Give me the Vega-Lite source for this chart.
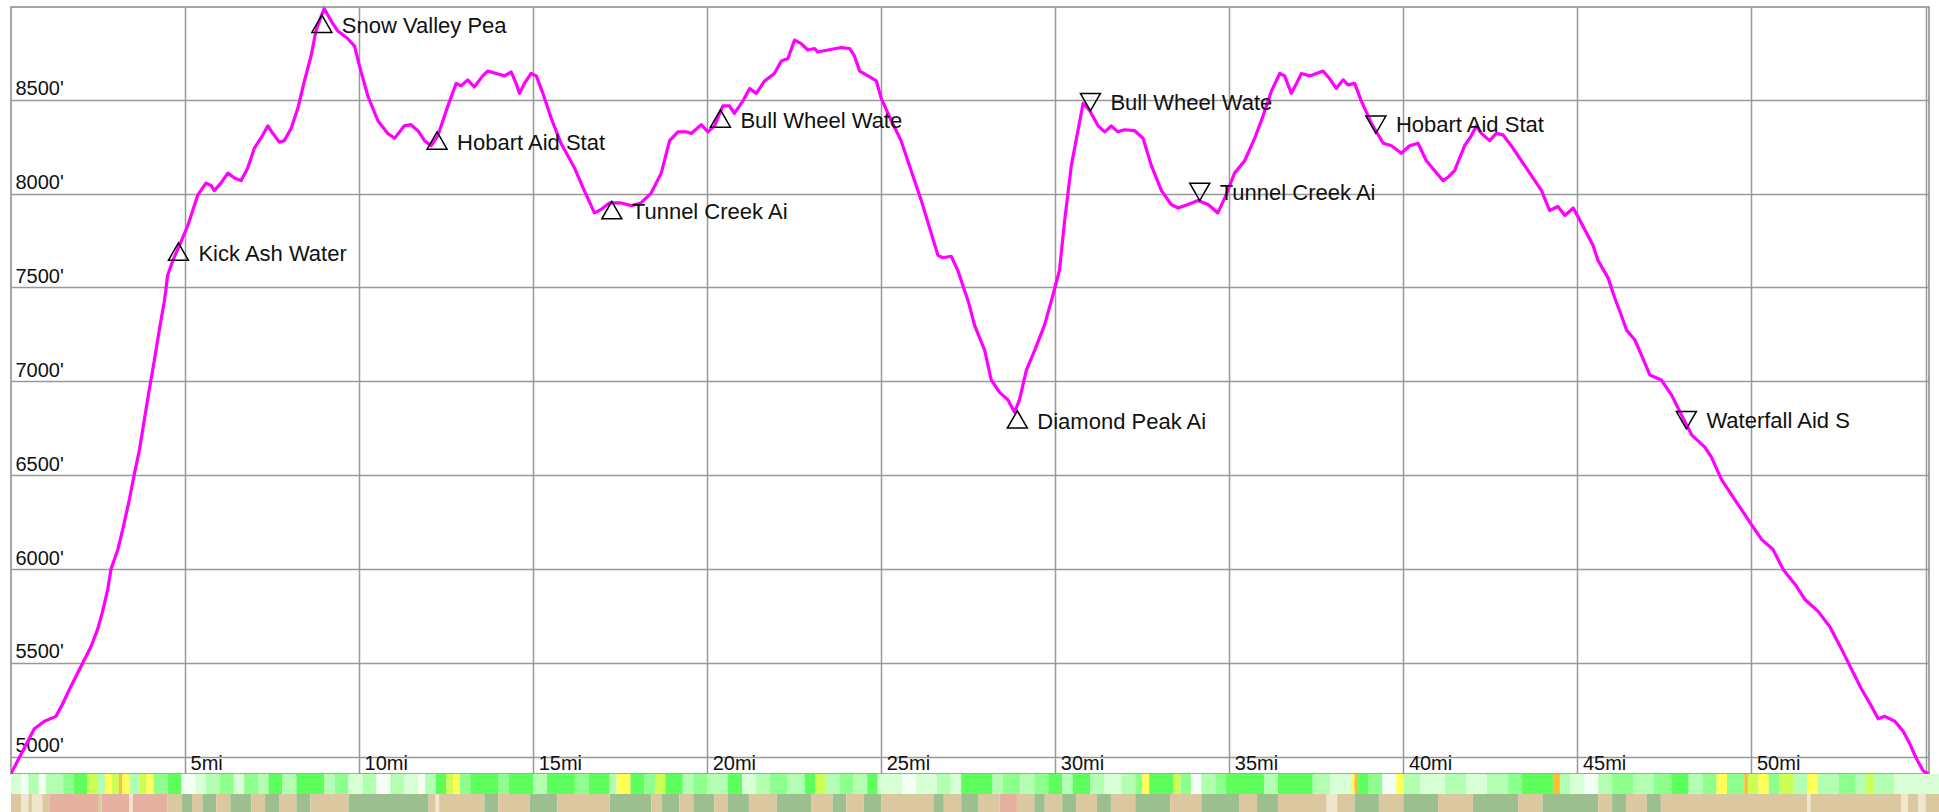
{
  "$schema": "https://vega.github.io/schema/vega-lite/v6.json",
  "padding": {"left": 10, "top": 6, "right": 0, "bottom": 0},
  "background": "white",
  "spacing": 0,
  "bounds": "flush",
  "config": {"font": "Liberation Sans"},
  "resolve": {"scale": {"color": "independent", "x": "independent"}},
  "datasets": {
    "profile": [
      {"mile":0.0,"elev":4910},{"mile":0.67,"elev":5149},{"mile":0.96,"elev":5189},{"mile":1.29,"elev":5215},{"mile":1.48,"elev":5281},{"mile":1.72,"elev":5374},{"mile":2.01,"elev":5481},{"mile":2.30,"elev":5587},{"mile":2.49,"elev":5680},{"mile":2.63,"elev":5773},{"mile":2.78,"elev":5892},{"mile":2.87,"elev":5998},{"mile":3.07,"elev":6104},{"mile":3.21,"elev":6211},{"mile":3.40,"elev":6370},{"mile":3.54,"elev":6503},{"mile":3.69,"elev":6635},{"mile":3.83,"elev":6795},{"mile":3.97,"elev":6954},{"mile":4.12,"elev":7113},{"mile":4.26,"elev":7273},{"mile":4.41,"elev":7432},{"mile":4.50,"elev":7565},{"mile":4.65,"elev":7644},{"mile":4.84,"elev":7724},{"mile":5.08,"elev":7830},{"mile":5.22,"elev":7910},{"mile":5.36,"elev":7990},{"mile":5.60,"elev":8056},{"mile":5.75,"elev":8043},{"mile":5.84,"elev":8016},{"mile":6.03,"elev":8056},{"mile":6.23,"elev":8109},{"mile":6.42,"elev":8083},{"mile":6.61,"elev":8069},{"mile":6.80,"elev":8136},{"mile":6.99,"elev":8242},{"mile":7.18,"elev":8295},{"mile":7.38,"elev":8361},{"mile":7.52,"elev":8321},{"mile":7.71,"elev":8274},{"mile":7.85,"elev":8282},{"mile":8.05,"elev":8348},{"mile":8.24,"elev":8454},{"mile":8.43,"elev":8600},{"mile":8.62,"elev":8733},{"mile":8.76,"elev":8866},{"mile":8.91,"elev":8945},{"mile":9.00,"elev":8985},{"mile":9.20,"elev":8919},{"mile":9.39,"elev":8866},{"mile":9.67,"elev":8826},{"mile":9.87,"elev":8786},{"mile":10.01,"elev":8680},{"mile":10.25,"elev":8521},{"mile":10.54,"elev":8388},{"mile":10.82,"elev":8321},{"mile":11.02,"elev":8295},{"mile":11.30,"elev":8361},{"mile":11.49,"elev":8367},{"mile":11.69,"elev":8335},{"mile":11.88,"elev":8282},{"mile":12.07,"elev":8255},{"mile":12.26,"elev":8308},{"mile":12.55,"elev":8467},{"mile":12.79,"elev":8587},{"mile":12.93,"elev":8574},{"mile":13.12,"elev":8606},{"mile":13.31,"elev":8568},{"mile":13.55,"elev":8627},{"mile":13.70,"elev":8653},{"mile":13.94,"elev":8640},{"mile":14.18,"elev":8627},{"mile":14.37,"elev":8648},{"mile":14.51,"elev":8587},{"mile":14.61,"elev":8534},{"mile":14.75,"elev":8587},{"mile":14.94,"elev":8640},{"mile":15.09,"elev":8627},{"mile":15.28,"elev":8534},{"mile":15.52,"elev":8401},{"mile":15.80,"elev":8268},{"mile":16.19,"elev":8136},{"mile":16.47,"elev":8016},{"mile":16.76,"elev":7897},{"mile":16.95,"elev":7915},{"mile":17.19,"elev":7950},{"mile":17.53,"elev":7950},{"mile":17.82,"elev":7936},{"mile":18.10,"elev":7950},{"mile":18.39,"elev":8003},{"mile":18.68,"elev":8109},{"mile":18.92,"elev":8282},{"mile":19.16,"elev":8329},{"mile":19.40,"elev":8329},{"mile":19.54,"elev":8320},{"mile":19.83,"elev":8367},{"mile":20.02,"elev":8329},{"mile":20.21,"elev":8361},{"mile":20.45,"elev":8467},{"mile":20.64,"elev":8467},{"mile":20.78,"elev":8427},{"mile":21.03,"elev":8494},{"mile":21.22,"elev":8560},{"mile":21.41,"elev":8534},{"mile":21.65,"elev":8600},{"mile":21.93,"elev":8640},{"mile":22.13,"elev":8706},{"mile":22.32,"elev":8720},{"mile":22.51,"elev":8818},{"mile":22.70,"elev":8799},{"mile":22.89,"elev":8765},{"mile":23.08,"elev":8773},{"mile":23.18,"elev":8754},{"mile":23.47,"elev":8765},{"mile":23.85,"elev":8778},{"mile":24.09,"elev":8773},{"mile":24.23,"elev":8733},{"mile":24.38,"elev":8653},{"mile":24.62,"elev":8627},{"mile":24.86,"elev":8600},{"mile":25.00,"elev":8507},{"mile":25.29,"elev":8388},{"mile":25.57,"elev":8282},{"mile":25.86,"elev":8122},{"mile":26.15,"elev":7963},{"mile":26.39,"elev":7817},{"mile":26.63,"elev":7671},{"mile":26.77,"elev":7658},{"mile":27.01,"elev":7666},{"mile":27.20,"elev":7591},{"mile":27.39,"elev":7485},{"mile":27.49,"elev":7432},{"mile":27.68,"elev":7299},{"mile":27.97,"elev":7166},{"mile":28.16,"elev":7007},{"mile":28.40,"elev":6941},{"mile":28.64,"elev":6901},{"mile":28.83,"elev":6835},{"mile":28.97,"elev":6901},{"mile":29.17,"elev":7060},{"mile":29.41,"elev":7166},{"mile":29.69,"elev":7299},{"mile":29.93,"elev":7458},{"mile":30.12,"elev":7591},{"mile":30.27,"elev":7857},{"mile":30.46,"elev":8149},{"mile":30.65,"elev":8335},{"mile":30.80,"elev":8481},{"mile":30.99,"elev":8441},{"mile":31.23,"elev":8361},{"mile":31.42,"elev":8329},{"mile":31.61,"elev":8361},{"mile":31.80,"elev":8329},{"mile":31.99,"elev":8340},{"mile":32.28,"elev":8335},{"mile":32.52,"elev":8295},{"mile":32.76,"elev":8149},{"mile":33.05,"elev":8016},{"mile":33.33,"elev":7942},{"mile":33.53,"elev":7923},{"mile":33.81,"elev":7942},{"mile":34.10,"elev":7963},{"mile":34.39,"elev":7942},{"mile":34.67,"elev":7897},{"mile":34.87,"elev":7977},{"mile":35.15,"elev":8109},{"mile":35.44,"elev":8175},{"mile":35.73,"elev":8295},{"mile":35.97,"elev":8414},{"mile":36.21,"elev":8547},{"mile":36.45,"elev":8640},{"mile":36.59,"elev":8627},{"mile":36.78,"elev":8534},{"mile":36.93,"elev":8587},{"mile":37.07,"elev":8640},{"mile":37.31,"elev":8627},{"mile":37.69,"elev":8653},{"mile":37.88,"elev":8613},{"mile":38.07,"elev":8560},{"mile":38.27,"elev":8606},{"mile":38.41,"elev":8579},{"mile":38.60,"elev":8587},{"mile":38.79,"elev":8494},{"mile":39.08,"elev":8375},{"mile":39.42,"elev":8268},{"mile":39.66,"elev":8255},{"mile":39.94,"elev":8215},{"mile":40.18,"elev":8255},{"mile":40.42,"elev":8268},{"mile":40.66,"elev":8175},{"mile":40.90,"elev":8122},{"mile":41.14,"elev":8069},{"mile":41.30,"elev":8090},{"mile":41.47,"elev":8122},{"mile":41.76,"elev":8255},{"mile":41.95,"elev":8308},{"mile":42.10,"elev":8361},{"mile":42.24,"elev":8321},{"mile":42.48,"elev":8282},{"mile":42.67,"elev":8321},{"mile":42.86,"elev":8313},{"mile":43.10,"elev":8255},{"mile":43.39,"elev":8175},{"mile":43.68,"elev":8096},{"mile":43.97,"elev":8016},{"mile":44.20,"elev":7910},{"mile":44.44,"elev":7931},{"mile":44.64,"elev":7883},{"mile":44.88,"elev":7923},{"mile":45.11,"elev":7844},{"mile":45.45,"elev":7724},{"mile":45.59,"elev":7644},{"mile":45.88,"elev":7551},{"mile":46.07,"elev":7445},{"mile":46.26,"elev":7352},{"mile":46.41,"elev":7273},{"mile":46.65,"elev":7220},{"mile":46.84,"elev":7140},{"mile":47.08,"elev":7034},{"mile":47.41,"elev":7007},{"mile":47.70,"elev":6928},{"mile":47.99,"elev":6821},{"mile":48.28,"elev":6715},{"mile":48.66,"elev":6649},{"mile":48.85,"elev":6596},{"mile":49.14,"elev":6476},{"mile":49.52,"elev":6370},{"mile":49.81,"elev":6290},{"mile":50.00,"elev":6237},{"mile":50.29,"elev":6158},{"mile":50.62,"elev":6104},{"mile":50.91,"elev":5998},{"mile":51.25,"elev":5919},{"mile":51.53,"elev":5839},{"mile":51.92,"elev":5773},{"mile":52.25,"elev":5693},{"mile":52.59,"elev":5573},{"mile":52.87,"elev":5467},{"mile":53.16,"elev":5361},{"mile":53.45,"elev":5268},{"mile":53.64,"elev":5202},{"mile":53.83,"elev":5215},{"mile":54.12,"elev":5189},{"mile":54.36,"elev":5135},{"mile":54.55,"elev":5069},{"mile":54.74,"elev":4989},{"mile":54.94,"elev":4923},{"mile":55.08,"elev":4910}
    ],
    "stations": [
      {"name":"Kick Ash Water","mile":4.81,"elev":7737,"dir":"up"},
      {"name":"Snow Valley Pea","mile":8.93,"elev":8951,"dir":"up"},
      {"name":"Hobart Aid Stat","mile":12.24,"elev":8329,"dir":"up"},
      {"name":"Tunnel Creek Ai","mile":17.26,"elev":7958,"dir":"up"},
      {"name":"Bull Wheel Wate","mile":20.38,"elev":8446,"dir":"up"},
      {"name":"Diamond Peak Ai","mile":28.91,"elev":6843,"dir":"up"},
      {"name":"Bull Wheel Wate","mile":31.01,"elev":8441,"dir":"down"},
      {"name":"Tunnel Creek Ai","mile":34.15,"elev":7963,"dir":"down"},
      {"name":"Hobart Aid Stat","mile":39.21,"elev":8321,"dir":"down"},
      {"name":"Waterfall Aid S","mile":48.13,"elev":6747,"dir":"down"}
    ],
    "strip1": [
      {"s":0,"e":0.3,"c":"p"},{"s":0.3,"e":0.5,"c":"w"},{"s":0.5,"e":0.8,"c":"l"},{"s":0.8,"e":1.0,"c":"w"},{"s":1.0,"e":1.5,"c":"l"},{"s":1.5,"e":1.8,"c":"g"},{"s":1.8,"e":2.2,"c":"b"},{"s":2.2,"e":2.5,"c":"yg"},{"s":2.5,"e":2.7,"c":"l"},{"s":2.7,"e":2.9,"c":"ye"},{"s":2.9,"e":3.1,"c":"yg"},{"s":3.1,"e":3.2,"c":"or"},{"s":3.2,"e":3.4,"c":"ye"},{"s":3.4,"e":3.7,"c":"l"},{"s":3.7,"e":3.9,"c":"yg"},{"s":3.9,"e":4.1,"c":"ye"},{"s":4.1,"e":4.5,"c":"g"},{"s":4.5,"e":4.9,"c":"b"},{"s":4.9,"e":5.3,"c":"w"},{"s":5.3,"e":5.6,"c":"p"},{"s":5.6,"e":6.0,"c":"l"},{"s":6.0,"e":6.4,"c":"g"},{"s":6.4,"e":6.7,"c":"p"},{"s":6.7,"e":7.1,"c":"g"},{"s":7.1,"e":7.4,"c":"l"},{"s":7.4,"e":7.8,"c":"b"},{"s":7.8,"e":8.2,"c":"l"},{"s":8.2,"e":9.0,"c":"b"},{"s":9.0,"e":9.3,"c":"l"},{"s":9.3,"e":9.7,"c":"g"},{"s":9.7,"e":10.1,"c":"p"},{"s":10.1,"e":10.5,"c":"l"},{"s":10.5,"e":10.9,"c":"w"},{"s":10.9,"e":11.3,"c":"l"},{"s":11.3,"e":11.7,"c":"p"},{"s":11.7,"e":11.9,"c":"w"},{"s":11.9,"e":12.2,"c":"l"},{"s":12.2,"e":12.5,"c":"b"},{"s":12.5,"e":12.7,"c":"yg"},{"s":12.7,"e":12.9,"c":"ye"},{"s":12.9,"e":13.2,"c":"g"},{"s":13.2,"e":14.0,"c":"b"},{"s":14.0,"e":14.3,"c":"g"},{"s":14.3,"e":15.0,"c":"b"},{"s":15.0,"e":15.4,"c":"l"},{"s":15.4,"e":16.2,"c":"b"},{"s":16.2,"e":16.6,"c":"g"},{"s":16.6,"e":17.2,"c":"b"},{"s":17.2,"e":17.4,"c":"l"},{"s":17.4,"e":17.8,"c":"ye"},{"s":17.8,"e":18.2,"c":"b"},{"s":18.2,"e":18.5,"c":"g"},{"s":18.5,"e":18.8,"c":"yg"},{"s":18.8,"e":19.3,"c":"b"},{"s":19.3,"e":19.6,"c":"l"},{"s":19.6,"e":20.0,"c":"g"},{"s":20.0,"e":20.6,"c":"l"},{"s":20.6,"e":21.0,"c":"b"},{"s":21.0,"e":21.4,"c":"p"},{"s":21.4,"e":21.8,"c":"l"},{"s":21.8,"e":22.3,"c":"g"},{"s":22.3,"e":22.8,"c":"l"},{"s":22.8,"e":23.1,"c":"b"},{"s":23.1,"e":23.4,"c":"yg"},{"s":23.4,"e":23.8,"c":"l"},{"s":23.8,"e":24.2,"c":"g"},{"s":24.2,"e":24.6,"c":"l"},{"s":24.6,"e":24.9,"c":"b"},{"s":24.9,"e":25.6,"c":"p"},{"s":25.6,"e":26.0,"c":"w"},{"s":26.0,"e":26.6,"c":"p"},{"s":26.6,"e":27.0,"c":"l"},{"s":27.0,"e":27.3,"c":"p"},{"s":27.3,"e":28.2,"c":"b"},{"s":28.2,"e":28.5,"c":"l"},{"s":28.5,"e":29.0,"c":"g"},{"s":29.0,"e":29.4,"c":"l"},{"s":29.4,"e":29.8,"c":"g"},{"s":29.8,"e":30.2,"c":"b"},{"s":30.2,"e":30.5,"c":"l"},{"s":30.5,"e":31.0,"c":"b"},{"s":31.0,"e":31.4,"c":"l"},{"s":31.4,"e":31.9,"c":"p"},{"s":31.9,"e":32.3,"c":"l"},{"s":32.3,"e":32.5,"c":"g"},{"s":32.5,"e":32.7,"c":"ye"},{"s":32.7,"e":33.4,"c":"b"},{"s":33.4,"e":33.6,"c":"yg"},{"s":33.6,"e":33.9,"c":"g"},{"s":33.9,"e":34.2,"c":"w"},{"s":34.2,"e":34.6,"c":"l"},{"s":34.6,"e":34.9,"c":"g"},{"s":34.9,"e":36.0,"c":"b"},{"s":36.0,"e":36.4,"c":"l"},{"s":36.4,"e":37.4,"c":"b"},{"s":37.4,"e":37.9,"c":"l"},{"s":37.9,"e":38.5,"c":"p"},{"s":38.5,"e":38.6,"c":"ye"},{"s":38.6,"e":38.7,"c":"or"},{"s":38.7,"e":39.0,"c":"b"},{"s":39.0,"e":39.4,"c":"g"},{"s":39.4,"e":39.8,"c":"w"},{"s":39.8,"e":40.0,"c":"ye"},{"s":40.0,"e":40.5,"c":"l"},{"s":40.5,"e":41.2,"c":"p"},{"s":41.2,"e":41.8,"c":"l"},{"s":41.8,"e":42.4,"c":"p"},{"s":42.4,"e":43.0,"c":"l"},{"s":43.0,"e":43.4,"c":"g"},{"s":43.4,"e":44.3,"c":"b"},{"s":44.3,"e":44.5,"c":"or"},{"s":44.5,"e":44.8,"c":"l"},{"s":44.8,"e":45.2,"c":"p"},{"s":45.2,"e":45.6,"c":"w"},{"s":45.6,"e":46.0,"c":"l"},{"s":46.0,"e":46.6,"c":"g"},{"s":46.6,"e":47.2,"c":"l"},{"s":47.2,"e":47.7,"c":"g"},{"s":47.7,"e":48.2,"c":"b"},{"s":48.2,"e":48.6,"c":"l"},{"s":48.6,"e":49.0,"c":"g"},{"s":49.0,"e":49.3,"c":"ye"},{"s":49.3,"e":49.8,"c":"g"},{"s":49.8,"e":49.9,"c":"or"},{"s":49.9,"e":50.2,"c":"yg"},{"s":50.2,"e":50.5,"c":"ye"},{"s":50.5,"e":50.8,"c":"g"},{"s":50.8,"e":51.2,"c":"yg"},{"s":51.2,"e":51.6,"c":"l"},{"s":51.6,"e":51.9,"c":"ye"},{"s":51.9,"e":52.5,"c":"l"},{"s":52.5,"e":53.0,"c":"g"},{"s":53.0,"e":53.3,"c":"l"},{"s":53.3,"e":53.5,"c":"yg"},{"s":53.5,"e":54.1,"c":"l"},{"s":54.1,"e":55.5,"c":"p"}
    ],
    "strip2": [
      {"s":0,"e":0.3,"c":"tan"},{"s":0.3,"e":0.5,"c":"crm"},{"s":0.5,"e":0.6,"c":"tan"},{"s":0.6,"e":0.9,"c":"crm"},{"s":0.9,"e":1.1,"c":"tan"},{"s":1.1,"e":2.5,"c":"pnk"},{"s":2.5,"e":2.6,"c":"tan"},{"s":2.6,"e":3.4,"c":"pnk"},{"s":3.4,"e":3.5,"c":"crm"},{"s":3.5,"e":4.5,"c":"pnk"},{"s":4.5,"e":4.9,"c":"tan"},{"s":4.9,"e":5.2,"c":"grn"},{"s":5.2,"e":5.5,"c":"tan"},{"s":5.5,"e":5.9,"c":"grn"},{"s":5.9,"e":6.3,"c":"tan"},{"s":6.3,"e":6.9,"c":"grn"},{"s":6.9,"e":7.3,"c":"tan"},{"s":7.3,"e":7.7,"c":"grn"},{"s":7.7,"e":8.2,"c":"tan"},{"s":8.2,"e":8.6,"c":"grn"},{"s":8.6,"e":9.7,"c":"tan"},{"s":9.7,"e":12.0,"c":"grn"},{"s":12.0,"e":12.2,"c":"tan"},{"s":12.2,"e":12.3,"c":"crm"},{"s":12.3,"e":13.6,"c":"tan"},{"s":13.6,"e":14.0,"c":"grn"},{"s":14.0,"e":14.9,"c":"tan"},{"s":14.9,"e":15.7,"c":"grn"},{"s":15.7,"e":17.2,"c":"tan"},{"s":17.2,"e":18.4,"c":"grn"},{"s":18.4,"e":18.7,"c":"tan"},{"s":18.7,"e":19.2,"c":"grn"},{"s":19.2,"e":19.6,"c":"tan"},{"s":19.6,"e":20.2,"c":"grn"},{"s":20.2,"e":20.6,"c":"tan"},{"s":20.6,"e":21.2,"c":"grn"},{"s":21.2,"e":22.0,"c":"tan"},{"s":22.0,"e":23.0,"c":"grn"},{"s":23.0,"e":23.6,"c":"tan"},{"s":23.6,"e":24.0,"c":"grn"},{"s":24.0,"e":24.5,"c":"tan"},{"s":24.5,"e":25.0,"c":"grn"},{"s":25.0,"e":26.5,"c":"tan"},{"s":26.5,"e":26.8,"c":"grn"},{"s":26.8,"e":27.3,"c":"tan"},{"s":27.3,"e":27.8,"c":"grn"},{"s":27.8,"e":28.4,"c":"tan"},{"s":28.4,"e":28.9,"c":"pnk"},{"s":28.9,"e":29.4,"c":"tan"},{"s":29.4,"e":29.7,"c":"grn"},{"s":29.7,"e":30.2,"c":"tan"},{"s":30.2,"e":30.6,"c":"grn"},{"s":30.6,"e":31.2,"c":"tan"},{"s":31.2,"e":31.6,"c":"grn"},{"s":31.6,"e":32.3,"c":"tan"},{"s":32.3,"e":33.3,"c":"grn"},{"s":33.3,"e":34.2,"c":"tan"},{"s":34.2,"e":35.3,"c":"grn"},{"s":35.3,"e":35.8,"c":"tan"},{"s":35.8,"e":36.4,"c":"grn"},{"s":36.4,"e":37.8,"c":"tan"},{"s":37.8,"e":38.1,"c":"crm"},{"s":38.1,"e":38.6,"c":"tan"},{"s":38.6,"e":39.3,"c":"grn"},{"s":39.3,"e":40.0,"c":"tan"},{"s":40.0,"e":41.0,"c":"grn"},{"s":41.0,"e":42.0,"c":"tan"},{"s":42.0,"e":43.3,"c":"grn"},{"s":43.3,"e":44.0,"c":"tan"},{"s":44.0,"e":45.6,"c":"grn"},{"s":45.6,"e":46.0,"c":"tan"},{"s":46.0,"e":46.4,"c":"grn"},{"s":46.4,"e":47.0,"c":"tan"},{"s":47.0,"e":47.4,"c":"grn"},{"s":47.4,"e":51.6,"c":"tan"},{"s":51.6,"e":51.7,"c":"crm"},{"s":51.7,"e":54.3,"c":"tan"},{"s":54.3,"e":54.5,"c":"crm"},{"s":54.5,"e":54.8,"c":"tan"},{"s":54.8,"e":55.0,"c":"crm"},{"s":55.0,"e":55.5,"c":"tan"}
    ]
  },
  "vconcat": [
    {
      "width": 1918,
      "height": 767,
      "view": {"stroke": "#888888", "strokeWidth": 1.5},
      "encoding": {
        "x": {
          "field": "mile", "type": "quantitative",
          "scale": {"domain": [0, 55.1], "nice": false, "zero": false},
          "axis": {
            "values": [5, 10, 15, 20, 25, 30, 35, 40, 45, 50, 55],
            "labelExpr": "datum.value == 55 ? '' : datum.value + 'mi'",
            "labelAlign": "left", "labelBaseline": "alphabetic",
            "labelPadding": -5, "labelOffset": 5, "labelFlush": false, "labelOverlap": false,
            "labelFontSize": 20, "labelColor": "#111111", "labelFont": "Liberation Sans",
            "domain": false, "ticks": false, "grid": true, "gridColor": "#999999", "gridWidth": 1.5,
            "title": null
          }
        },
        "y": {
          "field": "elev", "type": "quantitative",
          "scale": {"domain": [4908, 8994], "nice": false, "zero": false},
          "axis": {
            "values": [5000, 5500, 6000, 6500, 7000, 7500, 8000, 8500],
            "labelExpr": "datum.value + \"'\"",
            "labelAlign": "left", "labelBaseline": "alphabetic",
            "labelPadding": -4, "labelOffset": -5, "labelFlush": false, "labelOverlap": false,
            "labelFontSize": 20, "labelColor": "#111111", "labelFont": "Liberation Sans",
            "domain": false, "ticks": false, "grid": true, "gridColor": "#999999", "gridWidth": 1.5,
            "title": null
          }
        }
      },
      "layer": [
        {
          "data": {"name": "profile"},
          "mark": {"type": "line", "color": "#ff00ff", "strokeWidth": 3.2, "strokeJoin": "round", "clip": true}
        },
        {
          "data": {"name": "stations"},
          "transform": [{"filter": "datum.dir == 'up'"}],
          "mark": {"type": "point", "shape": "triangle-up", "size": 400, "filled": false, "color": "#000000", "strokeWidth": 1.5, "opacity": 1, "yOffset": 8.66}
        },
        {
          "data": {"name": "stations"},
          "transform": [{"filter": "datum.dir == 'down'"}],
          "mark": {"type": "point", "shape": "triangle-down", "size": 400, "filled": false, "color": "#000000", "strokeWidth": 1.5, "opacity": 1, "yOffset": -8.66}
        },
        {
          "data": {"name": "stations"},
          "transform": [{"filter": "datum.dir == 'up'"}],
          "mark": {"type": "text", "align": "left", "baseline": "alphabetic", "dx": 20, "dy": 18, "fontSize": 22, "color": "#111111", "font": "Liberation Sans"},
          "encoding": {"text": {"field": "name"}}
        },
        {
          "data": {"name": "stations"},
          "transform": [{"filter": "datum.dir == 'down'"}],
          "mark": {"type": "text", "align": "left", "baseline": "alphabetic", "dx": 20, "dy": -1, "fontSize": 22, "color": "#111111", "font": "Liberation Sans"},
          "encoding": {"text": {"field": "name"}}
        }
      ]
    },
    {
      "width": 1929,
      "height": 20,
      "view": {"stroke": null},
      "data": {"name": "strip1"},
      "mark": {"type": "rect"},
      "encoding": {
        "x": {"field": "s", "type": "quantitative", "scale": {"domain": [0, 55.42], "nice": false, "zero": false}, "axis": null},
        "x2": {"field": "e"},
        "color": {
          "field": "c", "type": "nominal", "legend": null,
          "scale": {"domain": ["w", "p", "l", "g", "b", "yg", "ye", "or"], "range": ["#f4fff4", "#d6ffd6", "#b2ffb2", "#8cff8c", "#5cff5c", "#ccff55", "#ffff55", "#ffbb33"]}
        }
      }
    },
    {
      "width": 1929,
      "height": 19,
      "view": {"stroke": null},
      "data": {"name": "strip2"},
      "mark": {"type": "rect"},
      "encoding": {
        "x": {"field": "s", "type": "quantitative", "scale": {"domain": [0, 55.42], "nice": false, "zero": false}, "axis": null},
        "x2": {"field": "e"},
        "color": {
          "field": "c", "type": "nominal", "legend": null,
          "scale": {"domain": ["tan", "grn", "pnk", "crm"], "range": ["#dcc8a0", "#9dbf90", "#e6b0a0", "#efe6cc"]}
        }
      }
    }
  ]
}
